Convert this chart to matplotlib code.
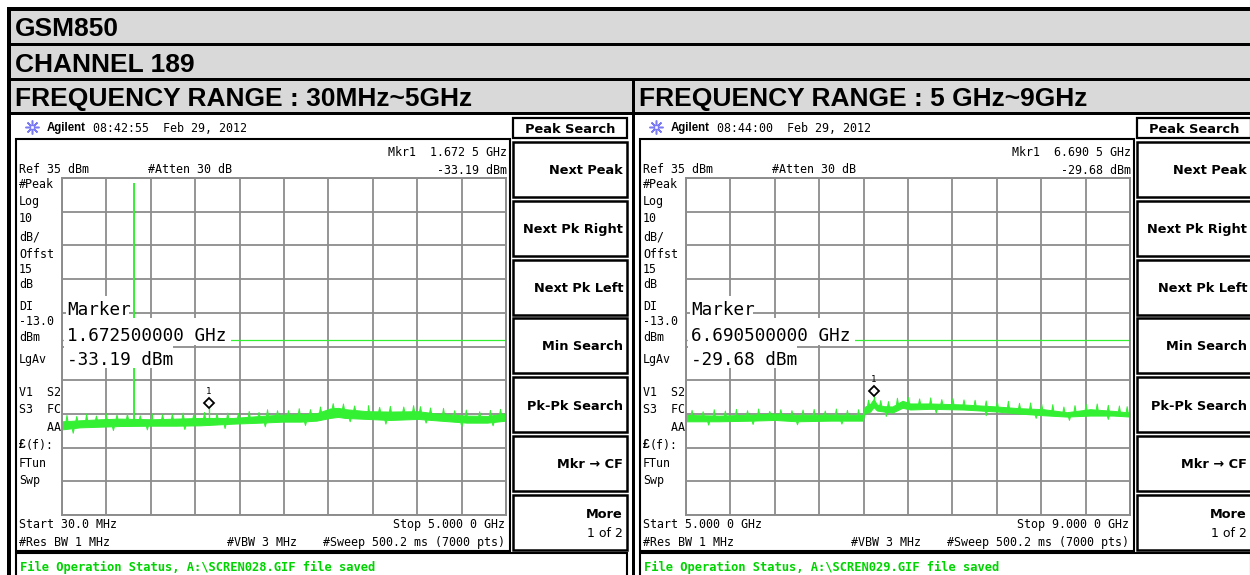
import matplotlib
matplotlib.use('Agg')
import matplotlib.pyplot as plt
from matplotlib.patches import Rectangle
import matplotlib.transforms as mtransforms
import numpy as np

# ---------------- data ----------------
titles = ['GSM850', 'CHANNEL 189']
range_titles = ['FREQUENCY RANGE : 30MHz~5GHz', 'FREQUENCY RANGE : 5 GHz~9GHz']
timestamps = ['08:42:55  Feb 29, 2012', '08:44:00  Feb 29, 2012']
mkr_headers = ['Mkr1  1.672 5 GHz', 'Mkr1  6.690 5 GHz']
mkr_values = ['-33.19 dBm', '-29.68 dBm']
mkr_freq_text = ['1.672500000 GHz', '6.690500000 GHz']
start_labels = ['Start 30.0 MHz', 'Start 5.000 0 GHz']
stop_labels = ['Stop 5.000 0 GHz', 'Stop 9.000 0 GHz']
status_texts = [r'File Operation Status, A:\SCREN028.GIF file saved',
                r'File Operation Status, A:\SCREN029.GIF file saved']
softkeys = ['Next Peak', 'Next Pk Right', 'Next Pk Left', 'Min Search',
            'Pk-Pk Search', 'Mkr \u2192 CF']
left_labels = ['#Peak', 'Log', '10', 'dB/', 'Offst', '15', 'dB', 'DI', '-13.0',
               'dBm', 'LgAv', 'V1  S2', 'S3  FC', '    AA', '(f):', 'FTun', 'Swp']

ref_level = 35.0
db_per_div = 10.0
display_line = -13.0

# Left sweep, frequency in MHz
L_span = (30.0, 5000.0)
L_env_f = [30, 230, 455, 680, 1040, 1300, 1575, 1945, 2250, 2500, 2700, 2880,
           3030, 3120, 3200, 3450, 3700, 4015, 4260, 4560, 4790, 5000]
L_env_lo = [-39.6, -39.0, -38.8, -38.6, -38.5, -38.5, -38.4, -37.9, -37.6, -37.3,
            -37.3, -37.0, -36.2, -35.9, -36.2, -36.5, -36.8, -36.5, -37.0, -37.6,
            -37.6, -37.0]
L_env_hi = [-37.2, -36.9, -36.6, -36.4, -36.6, -36.4, -36.2, -36.2, -35.6, -35.2,
            -35.1, -34.8, -33.4, -33.2, -33.6, -34.2, -34.3, -34.2, -35.0, -35.5,
            -35.6, -34.8]
L_spike_f = [80, 190, 300, 410, 520, 640, 757, 900, 1037, 1150, 1260, 1380, 1500,
             1620, 1760, 1880, 2000, 2120, 2230, 2325, 2437, 2560, 2680, 2806, 2918,
             3060, 3175, 3300, 3455, 3580, 3700, 3850, 3960, 4037, 4150, 4295, 4420,
             4550, 4700, 4820, 4933]
L_spike_db = [-35.3, -35.6, -34.9, -35.5, -34.8, -35.2, -34.9, -35.4, -34.9, -35.0,
              -34.9, -34.6, -35.0, -34.4, -34.8, -34.6, -34.7, -34.1, -34.4, -33.6,
              -33.9, -33.9, -33.3, -33.6, -32.8, -31.8, -31.9, -32.5, -32.4, -32.9,
              -32.6, -32.8, -32.4, -32.7, -33.1, -33.2, -33.9, -33.7, -34.2, -33.8,
              -33.5]
L_dip_f = [150, 600, 980, 1400, 1850, 2300, 2750, 3250, 3650, 4100, 4500, 4850]
L_dip_db = [-40.6, -39.8, -39.6, -39.5, -39.2, -38.7, -38.3, -37.2, -37.9, -37.6,
            -38.7, -38.4]
L_carrier = (836.6, 33.5)
L_marker = (1672.5, -33.19)

# Right sweep, frequency in GHz
R_span = (5.0, 9.0)
R_env_f = [5.00, 5.30, 5.60, 5.80, 6.00, 6.30, 6.59, 6.61, 6.66, 6.69, 6.72, 6.78,
           6.86, 6.95, 7.02, 7.20, 7.50, 7.80, 8.00, 8.22, 8.43, 8.64, 8.85, 9.00]
R_env_lo = [-37.2, -37.2, -37.0, -36.8, -37.2, -37.0, -37.0, -34.9, -34.3, -33.0,
            -34.0, -34.3, -34.6, -33.2, -33.7, -33.5, -33.7, -34.3, -34.9, -35.4,
            -35.8, -35.5, -35.5, -35.8]
R_env_hi = [-35.3, -35.5, -35.2, -34.9, -35.3, -35.2, -35.3, -32.9, -32.0, -30.6,
            -32.2, -32.7, -32.8, -31.1, -31.9, -31.9, -32.2, -32.8, -33.3, -33.6,
            -34.5, -33.6, -34.1, -34.6]
R_spike_f = [5.05, 5.15, 5.25, 5.35, 5.45, 5.55, 5.65, 5.75, 5.85, 5.95, 6.05, 6.15,
             6.25, 6.35, 6.45, 6.55, 6.64, 6.75, 6.82, 6.90, 7.00, 7.10, 7.20, 7.30,
             7.40, 7.50, 7.60, 7.70, 7.80, 7.90, 8.00, 8.10, 8.20, 8.30, 8.40, 8.50,
             8.60, 8.70, 8.80, 8.90, 8.97]
R_spike_db = [-33.8, -34.2, -33.6, -34.0, -33.5, -33.9, -33.4, -34.1, -33.6, -33.9,
              -33.7, -33.5, -34.0, -33.4, -33.8, -33.6, -30.8, -30.9, -31.2, -30.2,
              -30.0, -30.4, -30.1, -30.6, -30.3, -30.7, -30.8, -31.0, -31.2, -31.1,
              -31.7, -31.6, -32.0, -32.1, -32.8, -32.4, -32.0, -31.9, -32.3, -32.5,
              -32.7]
R_dip_f = [5.2, 5.6, 6.0, 6.4, 6.8, 7.25, 7.7, 8.15, 8.45, 8.8]
R_dip_db = [-38.2, -38.0, -38.1, -37.9, -35.6, -34.6, -35.4, -36.2, -36.8, -36.5]
R_marker = (6.6905, -29.68)

# ---------------- styling ----------------
W, H = 1250, 575
GREEN = '#33f033'
STATUS_GREEN = '#00d400'
GRID = '#8c8c8c'
HEAD_GRAY = '#d9d9d9'
BLUE = '#7a7af5'
MONO = ['DejaVu Sans Mono']
SANS = ['Liberation Sans', 'DejaVu Sans']
KEYF = ['DejaVu Sans']

fig = plt.figure(figsize=(12.5, 5.75), dpi=100)
fig.patch.set_facecolor('white')
bg = fig.add_axes([0, 0, 1, 1], zorder=0)
bg.set_xlim(0, W)
bg.set_ylim(H, 0)
bg.axis('off')


def rect(x0, y0, x1, y1, fc='none', ec='none', lw=0.0, z=1, ax=None):
    a = bg if ax is None else ax
    r = Rectangle((x0, y0), x1 - x0, y1 - y0, facecolor=fc, edgecolor=ec,
                  linewidth=lw, zorder=z, transform=bg.transData, clip_on=False)
    a.add_patch(r)
    return r


def txt(x, y, s, size, family=MONO, weight='normal', ha='left', color='black',
        z=6, ax=None):
    a = bg if ax is None else ax
    a.text(x, y, s, fontsize=size, family=family, fontweight=weight, ha=ha,
           va='center_baseline', color=color, zorder=z, transform=bg.transData,
           clip_on=False)


def jagged(env_f, env_v, pk_f, pk_v, half):
    """Envelope edge with narrow teeth at the listed noise peaks."""
    xs = list(env_f)
    ys = list(env_v)
    for f, v in zip(pk_f, pk_v):
        for ff, vv in ((f - half, None), (f, v), (f + half, None)):
            xs.append(ff)
            ys.append(np.interp(ff, env_f, env_v) if vv is None else vv)
    order = np.argsort(xs, kind='stable')
    return np.asarray(xs, float)[order], np.asarray(ys, float)[order]


# header block
rect(7, 7, W + 5, 115, fc='black', z=1)
rect(11, 11, W + 5, 43, fc=HEAD_GRAY, z=2)
rect(11, 46, W + 5, 78, fc=HEAD_GRAY, z=2)
rect(11, 81, 632, 112, fc=HEAD_GRAY, z=2)
rect(635, 81, W + 5, 112, fc=HEAD_GRAY, z=2)
rect(7, 7, 11, H + 5, fc='black', z=2)
rect(632, 78, 635, H + 5, fc='black', z=2)
rect(11, 115, 632, H + 5, fc='white', z=1)
rect(635, 115, W + 5, H + 5, fc='white', z=1)

txt(15, 27, titles[0], 19, family=SANS, weight='bold')
txt(15, 62, titles[1], 19, family=SANS, weight='bold')
txt(15, 96.5, range_titles[0], 19, family=SANS, weight='bold')
txt(639, 96.5, range_titles[1], 19, family=SANS, weight='bold')

left_label_y = [183, 200.5, 217, 235, 253, 268, 283, 305, 320, 336, 358,
                391, 408, 426, 444, 462, 479]
key_y = [(142, 197), (201, 256), (260, 315), (318, 373), (377, 432), (436, 491)]


def panel(i, dx, span, env_f, env_lo, env_hi, spk_f, spk_db, dip_f, dip_db,
          marker, carrier=None):
    # Agilent icon and header line
    bg.plot([32 + dx], [127], marker=(8, 2, 0), ms=10, color=BLUE, mew=1.1, zorder=5)
    bg.plot([32 + dx], [127], marker='s', ms=3.5, mfc='white', mec=BLUE, mew=1.0, zorder=6)
    txt(47 + dx, 127, 'Agilent', 8.3, family=SANS, weight='bold')
    txt(93 + dx, 127, timestamps[i], 8.4)

    # screen frame
    rect(16 + dx, 139, 510 + dx, 551, ec='black', lw=1.5, z=3)
    txt(19 + dx, 168, 'Ref 35 dBm', 8.4)
    txt(148 + dx, 168, '#Atten 30 dB', 8.4)
    txt(507 + dx, 151, mkr_headers[i], 8.4, ha='right')
    txt(507 + dx, 169, mkr_values[i], 8.4, ha='right')

    for s, y in zip(left_labels, left_label_y):
        if s == '(f):':
            txt(19 + dx, y, '\u00a3', 8.6, family=SANS, weight='bold')
            txt(26 + dx, y, s, 8.4)
        else:
            txt(19 + dx, y, s, 8.4)

    txt(19 + dx, 523, start_labels[i], 8.4)
    txt(19 + dx, 541, '#Res BW 1 MHz', 8.4)
    txt(227 + dx, 541, '#VBW 3 MHz', 8.4)
    txt(505 + dx, 541, '#Sweep 500.2 ms (7000 pts)', 8.4, ha='right')
    txt(505 + dx, 523, stop_labels[i], 8.4, ha='right')

    # softkeys
    rect(513 + dx, 118, 627 + dx, 138, fc='white', ec='black', lw=1.6, z=3)
    txt(570 + dx, 128, 'Peak Search', 9.4, family=KEYF, weight='bold', ha='center')
    for s, (y0, y1) in zip(softkeys, key_y):
        rect(513 + dx, y0, 627 + dx, y1, fc='white', ec='black', lw=1.8, z=3)
        txt(623 + dx, (y0 + y1) / 2, s, 9.3, family=KEYF, weight='bold', ha='right')
    rect(513 + dx, 495, 627 + dx, 550, fc='white', ec='black', lw=1.8, z=3)
    txt(623 + dx, 513, 'More', 9.3, family=KEYF, weight='bold', ha='right')
    txt(623 + dx, 532, '1 of 2', 9.0, family=KEYF, ha='right')

    # status bar
    rect(16 + dx, 553, 627 + dx, 590, fc='white', ec='black', lw=1.5, z=3)
    txt(20 + dx, 566, status_texts[i], 8.7, weight='bold', color=STATUS_GREEN)

    # graticule
    ax = fig.add_axes([(62 + dx) / W, 1 - 515 / H, 444 / W, 337 / H], zorder=2)
    ax.set_facecolor('white')
    ax.set_xlim(*span)
    bottom = ref_level - 10 * db_per_div
    ax.set_ylim(bottom, ref_level)
    ax.set_xticks(np.linspace(span[0], span[1], 11))
    ax.set_yticks(np.arange(bottom, ref_level + 1, db_per_div))
    ax.tick_params(length=0, labelbottom=False, labelleft=False)
    ax.grid(True, color=GRID, lw=1.3, zorder=0.5)
    ax.set_axisbelow(True)
    for sp in ax.spines.values():
        sp.set_color(GRID)
        sp.set_linewidth(1.4)
        sp.set_zorder(4)

    ax.axhline(display_line, color=GREEN, lw=0.9, zorder=1.5)

    # noise band with jagged edges
    px = (span[1] - span[0]) / 444.0
    uf, uv = jagged(env_f, env_hi, spk_f, spk_db, 1.0 * px)
    lf, lv = jagged(env_f, env_lo, dip_f, dip_db, 1.0 * px)
    grid_f = np.union1d(uf, lf)
    ax.fill_between(grid_f, np.interp(grid_f, lf, lv), np.interp(grid_f, uf, uv),
                    color=GREEN, lw=0.7, zorder=2)

    if carrier is not None:
        cb = np.interp(carrier[0], env_f, env_lo)
        ax.vlines([carrier[0]], [cb], [carrier[1]], color=GREEN, lw=1.4, zorder=2)
    mb = np.interp(marker[0], env_f, env_lo)
    ax.vlines([marker[0]], [mb], [marker[1]], color=GREEN, lw=1.0, zorder=2)
    shift = mtransforms.ScaledTranslation(0, 5 / 100, fig.dpi_scale_trans)
    ax.plot([marker[0]], [marker[1]], marker='D', ms=5.2, mfc='white', mec='black',
            mew=1.3, zorder=3, transform=ax.transData + shift)
    ax.annotate('1', xy=(marker[0], marker[1]), xytext=(0, 16), textcoords='offset pixels',
                ha='center', va='center', fontsize=6.5, family=MONO, zorder=6)

    # marker readout boxes over the graticule
    rect(66 + dx, 296, 129 + dx, 318, fc='white', z=3, ax=ax)
    rect(64 + dx, 318, 231 + dx, 345, fc='white', z=3, ax=ax)
    rect(64 + dx, 345, 173 + dx, 368, fc='white', z=3, ax=ax)
    txt(67 + dx, 308, 'Marker', 12.7, z=6, ax=ax)
    txt(67 + dx, 334, mkr_freq_text[i], 12.7, z=6, ax=ax)
    txt(67 + dx, 358, mkr_values[i], 12.7, z=6, ax=ax)
    return ax


panel(0, 0, L_span, L_env_f, L_env_lo, L_env_hi, L_spike_f, L_spike_db,
      L_dip_f, L_dip_db, L_marker, L_carrier)
panel(1, 624, R_span, R_env_f, R_env_lo, R_env_hi, R_spike_f, R_spike_db,
      R_dip_f, R_dip_db, R_marker)

fig.savefig('out.png', dpi=100, facecolor='white')
